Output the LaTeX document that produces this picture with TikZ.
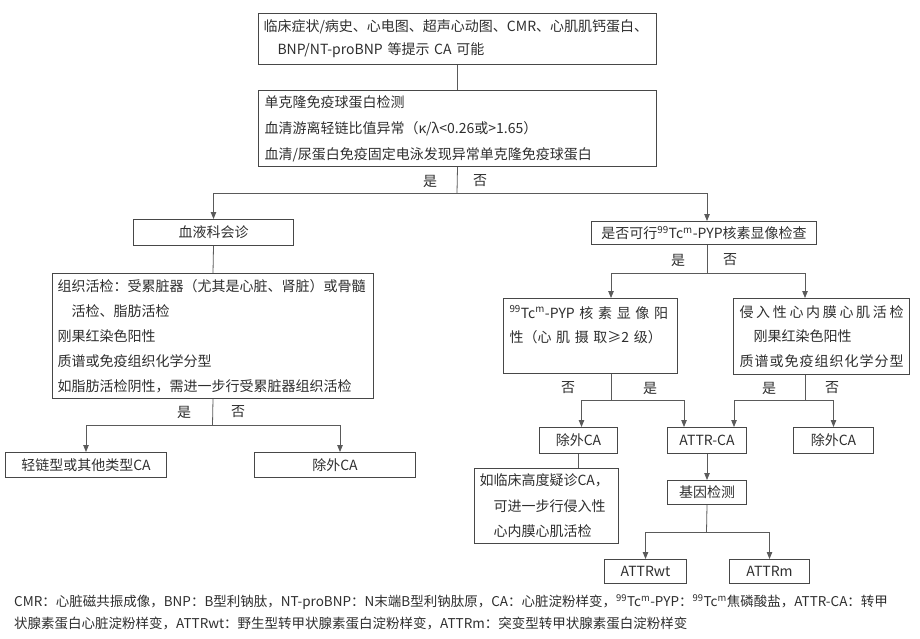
\documentclass[tikz,border=0pt]{standalone}
\usepackage{fontspec}
\setmainfont{Noto Sans CJK SC}
\usepackage{tikz}
\usetikzlibrary{calc,arrows.meta,positioning}
\definecolor{linex}{HTML}{5A5A5A}
\definecolor{boxx}{HTML}{474747}
\definecolor{textx}{HTML}{2E2E2E}
\newcommand{\tcm}{\textsuperscript{99}Tc\textsuperscript{m}}
\tikzset{
  ln/.style={line width=0.8pt,linex},
  ar/.style={ln,-{Triangle[length=7pt,width=5.5pt]}},
  box/.style={draw=boxx,line width=1pt,anchor=north west,inner sep=0pt,text=textx,font=\fontsize{14}{25}\selectfont},
  lab/.style={text=textx,font=\fontsize{14}{16}\selectfont,inner sep=0pt}
}

\begin{document}
\begin{tikzpicture}[x=1pt,y=-1pt]
\useasboundingbox (0,0) rectangle (920,639);
% boxes
\node[box,minimum width=398pt,minimum height=51pt,text width=388pt,align=left,font=\fontsize{14}{23}\selectfont] (b1) at (258,13)
  {临床症状/病史、心电图、超声心动图、CMR、心肌肌钙蛋白、\\\hspace*{14pt}BNP/NT-proBNP 等提示 CA 可能};
\node[box,minimum width=398pt,minimum height=76pt,text width=386pt,align=left,font=\fontsize{14}{26}\selectfont] (b2) at (258,90)
  {单克隆免疫球蛋白检测\\血清游离轻链比值异常（κ/λ<0.26或>1.65）\\血清/尿蛋白免疫固定电泳发现异常单克隆免疫球蛋白};
\node[box,minimum width=160pt,minimum height=26pt] (hem) at (133,219) {血液科会诊};
\node[box,minimum width=321pt,minimum height=125pt,text width=311pt,align=left] (bio) at (52,273)
  {组织活检：受累脏器（尤其是心脏、肾脏）或骨髓\\\hspace*{14pt}活检、脂肪活检\\刚果红染色阳性\\质谱或免疫组织化学分型\\如脂肪活检阴性，需进一步行受累脏器组织活检};
\node[box,minimum width=161pt,minimum height=25pt] (lc) at (5,452) {轻链型或其他类型CA};
\node[box,minimum width=161pt,minimum height=25pt] (exl) at (254,452) {除外CA};
\node[box,minimum width=225pt,minimum height=23pt] (pyq) at (591,221) {是否可行\tcm-PYP核素显像检查};
\node[box,minimum width=174pt,minimum height=75pt,text width=162pt,align=left,font=\fontsize{14}{24}\selectfont] (pp) at (503,298)
  {\makebox[162pt][s]{\tcm -PYP 核 素 显 像 阳}\\性（心 肌 摄 取≥2 级）\\~};
\node[box,minimum width=176pt,minimum height=76pt,text width=164pt,align=left,font=\fontsize{14}{24.5}\selectfont] (inv) at (733,298)
  {\makebox[164pt][s]{侵\hfill 入\hfill 性\hfill 心\hfill 内\hfill 膜\hfill 心\hfill 肌\hfill 活\hfill 检}\\
   \hspace*{14pt}刚果红染色阳性\\
   \makebox[164pt][s]{质\hfill 谱\hfill 或\hfill 免\hfill 疫\hfill 组\hfill 织\hfill 化\hfill 学\hfill 分\hfill 型}};
\node[box,minimum width=78pt,minimum height=26pt] (exa) at (539,427) {除外CA};
\node[box,minimum width=79pt,minimum height=26pt] (attr) at (667,427) {ATTR-CA};
\node[box,minimum width=80pt,minimum height=26pt] (exb) at (793,427) {除外CA};
\node[box,minimum width=144pt,minimum height=75pt,text width=134pt,align=left,font=\fontsize{14}{25.5}\selectfont] (hc) at (474,468)
  {如临床高度疑诊CA，\\\hspace*{14pt}可进一步行侵入性\\\hspace*{14pt}心内膜心肌活检};
\node[box,minimum width=79pt,minimum height=24pt] (gene) at (667,480) {基因检测};
\node[box,minimum width=82pt,minimum height=24pt] (wt) at (604,559) {ATTRwt};
\node[box,minimum width=80pt,minimum height=24pt] (mt) at (729,559) {ATTRm};
% yes / no
\node[lab] (y1) at (430,181) {是}; \node[lab] (n1) at (480,181) {否};
\node[lab] (y2) at (184,412) {是}; \node[lab] (n2) at (238,412) {否};
\node[lab] (y3) at (678,260) {是}; \node[lab] (n3) at (730,260) {否};
\node[lab] (n4) at (568,388) {否}; \node[lab] (y4) at (650,388) {是};
\node[lab] (y5) at (769,388) {是}; \node[lab] (n5) at (832,388) {否};
% split points
\coordinate (s1) at (457,193);
\coordinate (s2) at (212.5,425);
\coordinate (s3) at (707,273);
\coordinate (s4) at (611,400);
\coordinate (s5) at (805,400);
\coordinate (s6) at (706.5,532);
% connectors
\draw[ln] (b1.south) -- (b2.north);
\draw[ln] (b2.south) -- (s1);
\draw[ar] (s1) -| (hem.north);
\draw[ar] (s1) -| (s3 |- pyq.north);
\draw[ln] (hem.south) -- (bio.north);
\draw[ln] (bio.south) -- (s2);
\draw[ar] (s2) -| (lc.north);
\draw[ar] (s2) -| ([xshift=5pt]exl.north);
\draw[ln] (s3 |- pyq.south) -- (s3);
\draw[ar] (s3) -| (s4 |- pp.north);
\draw[ar] (s3) -| (s5 |- inv.north);
\draw[ln] (s4 |- pp.south) -- (s4);
\draw[ar] (s4) -| ([xshift=3pt]exa.north);
\draw[ar] (s4) -| ([xshift=-23pt]attr.north);
\draw[ln] (s5 |- inv.south) -- (s5);
\draw[ar] (s5) -| ([xshift=27pt]attr.north);
\draw[ar] (s5) -| (exb.north);
\draw[ln] (exa.south) -- (exa.south |- hc.north);
\draw[ar] (attr.south) -- (gene.north);
\draw[ln] (gene.south) -- (s6);
\draw[ar] (s6) -| (wt.north);
\draw[ar] (s6) -| (mt.north);
% notes
\node[anchor=north west,align=left,inner sep=0pt,text=textx,font=\fontsize{13.5}{22}\selectfont] (note) at (14,594)
  {CMR：心脏磁共振成像，BNP：B型利钠肽，NT-proBNP：N末端B型利钠肽原，CA：心脏淀粉样变，\tcm-PYP：\tcm 焦磷酸盐，ATTR-CA：转甲\\状腺素蛋白心脏淀粉样变，ATTRwt：野生型转甲状腺素蛋白淀粉样变，ATTRm：突变型转甲状腺素蛋白淀粉样变};
\end{tikzpicture}
\end{document}
